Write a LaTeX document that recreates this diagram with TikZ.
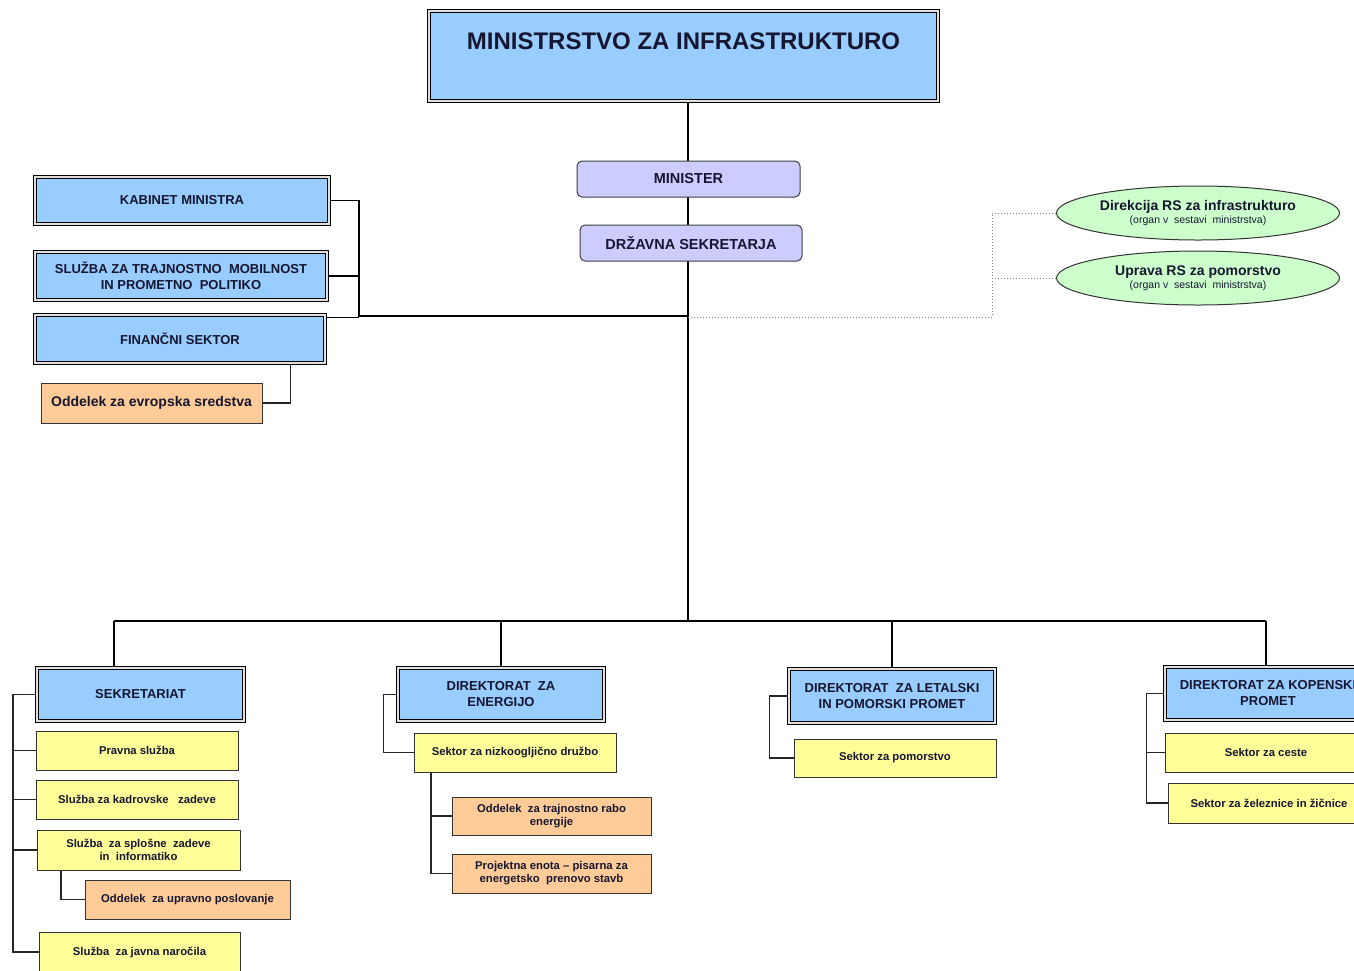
\documentclass[tikz,border=0pt]{standalone}
\usepackage{fontspec}
\setmainfont{Liberation Sans}
\usetikzlibrary{shapes.geometric,backgrounds}
\definecolor{bbl}{HTML}{99CCFF}
\definecolor{lav}{HTML}{CCCCFF}
\definecolor{grn}{HTML}{CCFFCC}
\definecolor{yel}{HTML}{FFFF99}
\definecolor{ora}{HTML}{FFCC99}
\definecolor{ink}{RGB}{22,22,48}
\tikzset{
  base/.style={align=center, text=ink, inner sep=0pt, font=\bfseries},
  bluebox/.style={base, rectangle, fill=bbl, draw=black, line width=1.1pt, double=gray!25, double distance=2pt},
  lavbox/.style={base, rectangle, rounded corners=5pt, fill=lav, draw=black!75, line width=1pt, font=\fontsize{14.5}{16}\selectfont\bfseries},
  yelbox/.style={base, rectangle, fill=yel, draw=black!80, line width=0.9pt, font=\fontsize{11.3}{13}\selectfont\bfseries},
  orabox/.style={base, rectangle, fill=ora, draw=black!80, line width=0.9pt, font=\fontsize{11.3}{13}\selectfont\bfseries},
  ellbox/.style={base, ellipse, fill=grn, draw=black!80, line width=1pt, minimum width=283pt, minimum height=54pt},
  headfont/.style={font=\fontsize{13}{16}\selectfont\bfseries},
  trunk/.style={draw=black, line width=2.4pt},
  conn/.style={draw=black, line width=1.8pt},
  thin/.style={draw=black!85, line width=1.2pt},
  dots/.style={draw=gray, line width=1pt, dotted}
}
\begin{document}
\begin{tikzpicture}[x=1pt,y=-1pt]
\useasboundingbox (0,0) rectangle (1354,970);
\clip (0,0) rectangle (1354,970);

% top
\node[bluebox, minimum width=509pt, text height=38pt, text depth=52pt, font=\fontsize{24}{26}\selectfont\bfseries] (title) at (683.5,56) {MINISTRSTVO ZA INFRASTRUKTURO};
\node[lavbox, minimum width=223pt, minimum height=36pt] (min) at (688.5,179) {MINISTER};
\node[lavbox, minimum width=222pt, minimum height=36pt] (drz) at (691,243) {DRŽAVNA SEKRETARJA};

% left staff
\node[bluebox, headfont, minimum width=294pt, minimum height=47pt] (kab) at (182,200.5) {KABINET MINISTRA};
\node[bluebox, headfont, minimum width=292pt, minimum height=48pt] (trm) at (181,276) {SLUŽBA ZA TRAJNOSTNO \ MOBILNOST\\IN PROMETNO \ POLITIKO};
\node[bluebox, headfont, minimum width=290pt, minimum height=48pt] (fin) at (180,339) {FINANČNI SEKTOR};
\node[orabox, font=\fontsize{14}{16}\selectfont\bfseries, minimum width=221pt, minimum height=40pt] (evr) at (151.5,403) {Oddelek za evropska sredstva};

% bodies in the ministry
\node[ellbox] (dir) at (1198,213) {\fontsize{14}{15}\selectfont Direkcija RS za infrastrukturo\\[1pt]{\fontsize{10.5}{11}\selectfont\mdseries (organ v \ sestavi \ ministrstva)}};
\node[ellbox] (upr) at (1198,278) {\fontsize{14}{15}\selectfont Uprava RS za pomorstvo\\[1pt]{\fontsize{10.5}{11}\selectfont\mdseries (organ v \ sestavi \ ministrstva)}};

% Sekretariat
\node[bluebox, headfont, minimum width=207pt, minimum height=53pt] (sek) at (140.5,694.5) {SEKRETARIAT};
\node[yelbox, minimum width=202pt, minimum height=39pt] (prav) at (137,750.5) {Pravna služba};
\node[yelbox, minimum width=202pt, minimum height=39pt] (kadr) at (137,799.5) {Služba za kadrovske \ \ zadeve};
\node[yelbox, minimum width=203pt, minimum height=40pt] (splo) at (138.5,850) {Služba \ za splošne \ zadeve\\in \ informatiko};
\node[orabox, minimum width=205pt, minimum height=39pt] (uprp) at (187.5,899.5) {Oddelek \ za upravno poslovanje};
\node[yelbox, minimum width=201pt, minimum height=40pt] (jav) at (139.5,952) {Služba \ za javna naročila};

% Energija
\node[bluebox, headfont, minimum width=206pt, minimum height=53pt] (ene) at (501,694.5) {DIREKTORAT \ ZA\\ENERGIJO};
\node[yelbox, minimum width=202pt, minimum height=39pt] (niz) at (515,752.5) {Sektor za nizkoogljično družbo};
\node[orabox, minimum width=199pt, minimum height=38pt] (tra) at (551.5,816) {Oddelek \ za trajnostno rabo\\energije};
\node[orabox, minimum width=199pt, minimum height=39pt] (pro) at (551.5,873.5) {Projektna enota -- pisarna za\\energetsko \ prenovo stavb};

% Letalski
\node[bluebox, headfont, minimum width=206pt, minimum height=54pt] (let) at (892,696) {DIREKTORAT \ ZA LETALSKI\\IN POMORSKI PROMET};
\node[yelbox, minimum width=202pt, minimum height=38pt] (pom) at (895,758) {Sektor za pomorstvo};

% Kopenski
\node[bluebox, headfont, minimum width=206pt, minimum height=53pt] (kop) at (1268,693.5) {DIREKTORAT ZA KOPENSKI\\PROMET};
\node[yelbox, minimum width=202pt, minimum height=39pt] (ces) at (1266,752.5) {Sektor za ceste};
\node[yelbox, minimum width=202pt, minimum height=40pt] (zel) at (1269,803) {Sektor za železnice in žičnice};

% coordinates
\coordinate (bus) at (688,621);
\coordinate (lbr) at (359,316);
\coordinate (dv) at (992,317);
\coordinate (b1) at (114,621);
\coordinate (b4) at (1266,621);
\coordinate (sl) at (13,692);

\begin{scope}[on background layer]
  \fill[white] (0,0) rectangle (1354,970);
  \draw[trunk] (title.south -| bus) -- (bus);
  \draw[trunk] (b1) -- (b4);
  \draw[trunk] (b1) -- (b1 |- sek.north);
  \draw[trunk] (bus -| ene.north) -- (ene.north);
  \draw[trunk] (bus -| let.north) -- (let.north);
  \draw[trunk] (b4) -- (b4 |- kop.north);
  % staff bracket
  \draw[conn] (kab.east) -| (lbr) -- (lbr -| bus);
  \draw[conn] (trm.east) -- (trm.east -| lbr);
  \draw[conn] ([yshift=-3pt]fin.north east) -- ([yshift=-3pt]fin.north east -| lbr);
  \draw[thin] ([xshift=-35pt]fin.south east) |- (evr.east);
  % dotted to bodies
  \draw[dots] (bus |- dv) -- (dv) |- (dir.west);
  \draw[dots] (dv |- upr.west) -- (upr.west);
  % sekretariat
  \draw[thin] (sek.west) -- (sek.west -| sl) -- (sl |- jav.west) -- (jav.west);
  \draw[thin] (prav.west) -- (prav.west -| sl);
  \draw[thin] (kadr.west) -- (kadr.west -| sl);
  \draw[thin] (splo.west) -- (splo.west -| sl);
  \draw[thin] ([xshift=-77.5pt]splo.south) |- (uprp.west);
  % energija
  \draw[thin] (ene.west) -- ++(-14,0) |- (niz.west);
  \draw[thin] ([xshift=-84pt]niz.south) |- (pro.west);
  \draw[thin] (tra.west) -- ++(-21,0);
  % letalski
  \draw[thin] (let.west) -- ++(-19,0) |- (pom.west);
  % kopenski
  \draw[thin] (kop.west) -- ++(-18,0) |- (zel.west);
  \draw[thin] (ces.west) -- ++(-18,0);
\end{scope}
\end{tikzpicture}
\end{document}
